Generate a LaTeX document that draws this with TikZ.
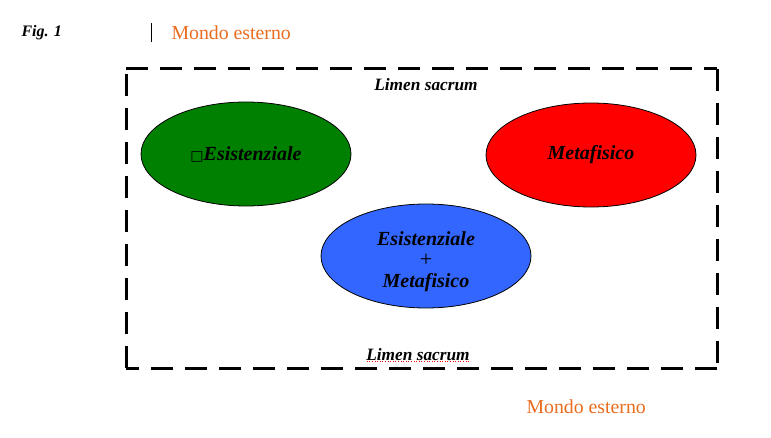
\documentclass[tikz,border=0pt]{standalone}
\usepackage{fontspec}
\setmainfont{Liberation Serif}
\usetikzlibrary{shapes.geometric}
\definecolor{mgreen}{RGB}{0,128,0}
\definecolor{mred}{RGB}{255,0,0}
\definecolor{mblue}{RGB}{51,102,255}
\definecolor{morange}{RGB}{232,108,30}
\begin{document}
\begin{tikzpicture}[x=1pt,y=-1pt,
  blob/.style={ellipse,draw=black,line width=0.8pt,minimum width=210pt,minimum height=104pt,inner sep=0pt,
    font=\fontsize{20}{21}\selectfont\bfseries\itshape,align=center},
  outer/.style={text=morange,font=\fontsize{19.8}{22}\selectfont,anchor=west},
  limen/.style={font=\fontsize{17.3}{20}\selectfont\bfseries\itshape}]
\useasboundingbox (0,0) rectangle (771,438);
\node[anchor=west,font=\fontsize{16}{18}\selectfont\bfseries\itshape] (fig) at (18,33) {Fig. 1};
\draw[line width=0.8pt] (151,23) -- (151,42);
\node[outer] (m1) at (168,33) {Mondo esterno};
\node[outer] (m2) at (523,407) {Mondo esterno};
\draw[line width=3pt,dash pattern=on 22pt off 12pt] (126,69) -- (717,69);
\draw[line width=3pt,dash pattern=on 22pt off 12pt] (717,69) -- (717,368);
\draw[line width=3pt,dash pattern=on 22pt off 12pt] (717,368) -- (126,368);
\draw[line width=3pt,dash pattern=on 22pt off 12pt] (126,368) -- (126,69);
\node[limen] (l1) at (426,85) {Limen sacrum};
\node[limen] (l2) at (418,355) {Limen sacrum};
\draw[mred,line width=0.6pt,dotted] (l2.south west)++(4,-3) -- ++(104,0);
\node[blob,fill=mgreen] (g) at (246,154) {{\fontspec{DejaVu Sans}\mdseries\upshape\fontsize{14}{14}\selectfont □}Esistenziale};
\node[blob,fill=mred] (r) at (591,155) {Metafisico};
\node[blob,fill=mblue] (b) at (426,256) {\raisebox{-11pt}[0pt][0pt]{\begin{tabular}{@{}c@{}}Esistenziale\\{\mdseries\upshape\fontsize{22}{21}\selectfont +}\\Metafisico\end{tabular}}};
\end{tikzpicture}
\end{document}
